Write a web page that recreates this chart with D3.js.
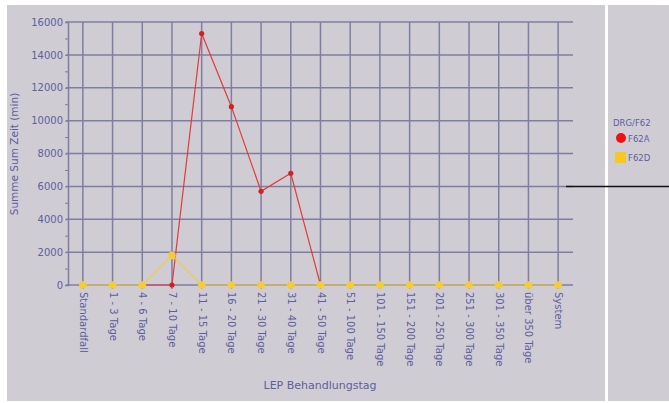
<!DOCTYPE html>
<html><head><meta charset="utf-8">
<script src="https://cdn.jsdelivr.net/npm/d3@7"></script>
<style>
html,body{margin:0;padding:0;background:#fff;}
svg{display:block;}
text{font-family:"DejaVu Sans",sans-serif;fill:#5e5ea0;}
</style></head>
<body>
<svg id="c" width="669" height="403"></svg>
<script>
const categories = ["Standardfall","1 - 3 Tage","4 - 6 Tage","7 - 10 Tage","11 - 15 Tage","16 - 20 Tage","21 - 30 Tage","31 - 40 Tage","41 - 50 Tage","51 - 100 Tage","101 - 150 Tage","151 - 200 Tage","201 - 250 Tage","251 - 300 Tage","301 - 350 Tage","über 350 Tage","System"];
const seriesF62A = [null,null,0,0,15300,10850,5700,6800,0,null,null,null,null,null,null,null,null];
const seriesF62D = [0,0,0,1800,0,0,0,0,0,0,0,0,0,0,0,0,0];
const yTicks = [0,2000,4000,6000,8000,10000,12000,14000,16000];
const seriesNames = ["F62A","F62D"];
const legendTitle = "DRG/F62";

const svg = d3.select("#c");
svg.append("rect").attr("x",7).attr("y",5).attr("width",598).attr("height",396).attr("fill","#cfcdd3");
svg.append("rect").attr("x",608).attr("y",5).attr("width",61).attr("height",396).attr("fill","#cfcdd3");

const L=68, R=573, T=22, B=285;
const x = d3.scalePoint().domain(categories).range([L,R]).padding(0.5);
const y = d3.scaleLinear().domain([0,16000]).range([B,T]);
const grid="#7e7ea2";

svg.append("g").selectAll("line").data(yTicks).join("line")
  .attr("x1",L-2).attr("x2",R).attr("y1",d=>y(d)).attr("y2",d=>y(d))
  .attr("stroke",grid).attr("stroke-width",1.5);
svg.append("g").selectAll("line").data(categories).join("line")
  .attr("x1",d=>x(d)).attr("x2",d=>x(d)).attr("y1",T).attr("y2",B+4)
  .attr("stroke",grid).attr("stroke-width",1.5);
const yAxis = d3.axisLeft(y).tickValues(d3.range(0,16001,1000)).tickSize(3)
  .tickFormat(d=> d%2000===0 ? d : "");
const ga = svg.append("g").attr("transform",`translate(${L},0)`).call(yAxis);
ga.select(".domain").attr("stroke",grid).attr("stroke-width",1.5);
ga.selectAll(".tick line").attr("stroke",grid);
ga.selectAll("text").attr("font-size",10).attr("fill","#5e5ea0").attr("x",-5).style("font-family","DejaVu Sans");

svg.append("text").attr("transform","translate(18,154) rotate(-90)")
  .attr("text-anchor","middle").attr("font-size",10.5).text("Summe Sum Zeit (min)");

const xAxis = d3.axisBottom(x).tickSize(0);
const gx = svg.append("g").attr("transform",`translate(0,${B})`).call(xAxis);
gx.select(".domain").remove();
gx.selectAll("text").attr("font-size",10).attr("fill","#5e5ea0").style("font-family","DejaVu Sans")
  .attr("transform","rotate(90)").attr("text-anchor","start").attr("x",7).attr("y",0).attr("dy","0.35em");

svg.append("text").attr("x",320).attr("y",389).attr("text-anchor","middle").attr("font-size",11).text("LEP Behandlungstag");

const line = d3.line().defined(d=>d.v!==null).x(d=>x(d.c)).y(d=>y(d.v));
const dA = categories.map((c,i)=>({c,v:seriesF62A[i]}));
const dD = categories.map((c,i)=>({c,v:seriesF62D[i]}));
svg.append("path").datum(dA).attr("d",line).attr("fill","none").attr("stroke","#e23a3a").attr("stroke-width",1.2);
svg.append("g").selectAll("circle").data(dA.filter(d=>d.v!==null)).join("circle")
  .attr("cx",d=>x(d.c)).attr("cy",d=>y(d.v)).attr("r",2.6).attr("fill","#d42020");
svg.append("path").datum(dD).attr("d",line).attr("fill","none").attr("stroke","#f2cc40").attr("stroke-width",1.2);
svg.append("g").selectAll("circle").data(dD).join("circle")
  .attr("cx",d=>x(d.c)).attr("cy",d=>y(d.v)).attr("r",3.8).attr("fill","#f4cc3a");

svg.append("text").attr("x",613).attr("y",126).attr("font-size",8.5).attr("fill","#7070a8").text(legendTitle);
svg.append("circle").attr("cx",621).attr("cy",138).attr("r",5).attr("fill","#ee1111");
svg.append("rect").attr("x",615).attr("y",152).attr("width",11).attr("height",11).attr("fill","#f8c820");
svg.append("text").attr("x",628).attr("y",142).attr("font-size",8.5).attr("fill","#7070a8").text(seriesNames[0]);
svg.append("text").attr("x",628).attr("y",161).attr("font-size",8.5).attr("fill","#7070a8").text(seriesNames[1]);

svg.append("line").attr("x1",566).attr("x2",669).attr("y1",186.5).attr("y2",186.5).attr("stroke","#111").attr("stroke-width",1.5);
</script>
</body></html>
